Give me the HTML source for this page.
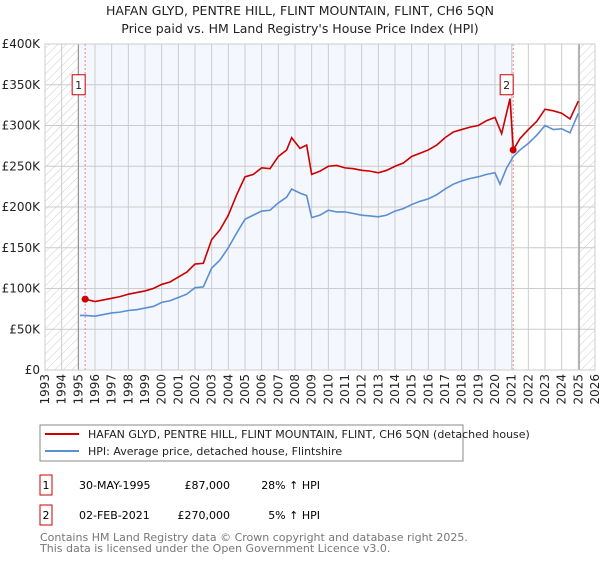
<!DOCTYPE html>
<html><head><meta charset="utf-8"><style>
body{margin:0;width:600px;height:560px;background:#fff;font-family:"Liberation Sans","DejaVu Sans",sans-serif;overflow:hidden}
svg text{font-family:"DejaVu Sans","Liberation Sans",sans-serif}
</style></head><body>
<svg id="c" width="600" height="560">
<defs><pattern id="hatch" width="6" height="6" patternUnits="userSpaceOnUse" patternTransform="rotate(45)"><line x1="0" y1="0" x2="0" y2="6" stroke="#ccc" stroke-width="1"/></pattern></defs>
<text x="300" y="15" text-anchor="middle" font-size="12.5" fill="#222">HAFAN GLYD, PENTRE HILL, FLINT MOUNTAIN, FLINT, CH6 5QN</text>
<text x="300" y="33" text-anchor="middle" font-size="12.5" fill="#222">Price paid vs. HM Land Registry's House Price Index (HPI)</text>
<g id="plot"></g>
<rect x="40" y="425" width="423" height="36" fill="#fff" stroke="#888"/>
<line x1="45" y1="434" x2="79" y2="434" stroke="#cc0000" stroke-width="2"/>
<text x="88" y="438" font-size="11" fill="#222">HAFAN GLYD, PENTRE HILL, FLINT MOUNTAIN, FLINT, CH6 5QN (detached house)</text>
<line x1="45" y1="451" x2="79" y2="451" stroke="#5b8fd4" stroke-width="2"/>
<text x="88" y="455" font-size="11" fill="#222">HPI: Average price, detached house, Flintshire</text>
<g>
<rect x="40" y="475" width="12" height="20" fill="#fff" stroke="#cc0000"/><text x="46" y="489" font-size="11" text-anchor="middle">1</text>
<text x="79" y="489" font-size="11">30-MAY-1995</text><text x="230" y="489" font-size="11" text-anchor="end">£87,000</text><text x="320" y="489" font-size="11" text-anchor="end">28% ↑ HPI</text></g>
<g>
<rect x="40" y="505" width="12" height="20" fill="#fff" stroke="#cc0000"/><text x="46" y="519" font-size="11" text-anchor="middle">2</text>
<text x="79" y="519" font-size="11">02-FEB-2021</text><text x="230" y="519" font-size="11" text-anchor="end">£270,000</text><text x="320" y="519" font-size="11" text-anchor="end">5% ↑ HPI</text></g>
<text x="40" y="541" font-size="11" fill="#777">Contains HM Land Registry data © Crown copyright and database right 2025.</text>
<text x="40" y="552" font-size="11" fill="#777">This data is licensed under the Open Government Licence v3.0.</text>
</svg>
<script>
const hpiYears=[1995.1,1995.4,1996,1996.5,1997,1997.5,1998,1998.5,1999,1999.5,2000,2000.5,2001,2001.5,2002,2002.5,2003,2003.5,2004,2004.5,2005,2005.5,2006,2006.5,2007,2007.5,2007.8,2008.3,2008.7,2009,2009.5,2010,2010.5,2011,2011.5,2012,2012.5,2013,2013.5,2014,2014.5,2015,2015.5,2016,2016.5,2017,2017.5,2018,2018.5,2019,2019.5,2020,2020.3,2020.7,2021.1,2021.5,2022,2022.5,2023,2023.5,2024,2024.5,2025];
const hpiValues=[67,67,66,68,70,71,73,74,76,78,83,85,89,93,101,102,125,135,150,168,185,190,195,196,205,212,222,217,214,187,190,196,194,194,192,190,189,188,190,195,198,203,207,210,215,222,228,232,235,237,240,242,228,248,262,270,278,288,300,295,296,291,315];
const saleYears=[1995.4,1996,1996.5,1997,1997.5,1998,1998.5,1999,1999.5,2000,2000.5,2001,2001.5,2002,2002.5,2003,2003.5,2004,2004.5,2005,2005.5,2006,2006.5,2007,2007.5,2007.8,2008.3,2008.7,2009,2009.5,2010,2010.5,2011,2011.5,2012,2012.5,2013,2013.5,2014,2014.5,2015,2015.5,2016,2016.5,2017,2017.5,2018,2018.5,2019,2019.5,2020,2020.4,2020.9,2021.1,2021.5,2022,2022.5,2023,2023.5,2024,2024.5,2025];
const saleValues=[87,84,86,88,90,93,95,97,100,105,108,114,120,130,131,160,172,190,215,237,240,248,247,262,270,285,272,276,240,244,250,251,248,247,245,244,242,245,250,254,262,266,270,276,285,292,295,298,300,306,310,290,333,270,284,295,305,320,318,315,308,330];
const yTicks=[0,50,100,150,200,250,300,350,400];
const yTickLabels=["£0","£50K","£100K","£150K","£200K","£250K","£300K","£350K","£400K"];
const xTicks=[];for(let y=1993;y<=2026;y++)xTicks.push(y);
const sales=[{n:"1",year:1995.41,value:87},{n:"2",year:2021.09,value:270}];
const X=y=>45+(y-1993)*(550/33), Y=v=>370-v*326/400;
const NS="http://www.w3.org/2000/svg",g=document.getElementById('plot');
function mk(t,a,p){const e=document.createElementNS(NS,t);for(const k in a)e.setAttribute(k,a[k]);(p||g).appendChild(e);return e;}
let e;
e=mk('rect',{x:X(1995),y:Y(400),width:X(2021.09)-X(1995),height:Y(0)-Y(400),fill:'#f4f7fe'});


e=mk('rect',{x:X(1993),y:Y(400),width:X(1995)-X(1993),height:Y(0)-Y(400),fill:'url(#hatch)'});


e=mk('rect',{x:X(2025.05),y:Y(400),width:X(2026)-X(2025.05),height:Y(0)-Y(400),fill:'url(#hatch)'});


yTicks.forEach((v,i)=>{
 e=mk('line',{x1:X(1993),x2:X(2026),y1:Y(v),y2:Y(v),stroke:'#ccc'});
 
 
 e=mk('text',{x:40,y:Y(v)+4,'text-anchor':'end','font-size':12,fill:'#222'});e.textContent=yTickLabels[i];
 
 
});
xTicks.forEach(y=>{
 e=mk('line',{x1:X(y),x2:X(y),y1:Y(400),y2:Y(0),stroke:'#ccc'});
 
 
 e=mk('text',{x:0,y:0,'text-anchor':'end','font-size':12,fill:'#222',transform:`translate(${X(y)+4},374) rotate(-90)`});e.textContent=y;
 
 
});
e=mk('line',{x1:X(1995),x2:X(1995),y1:Y(400),y2:Y(0),stroke:'#888'});


e=mk('line',{x1:X(2025.05),x2:X(2025.05),y1:Y(400),y2:Y(0),stroke:'#888'});


sales.forEach(s=>{
 e=mk('line',{x1:X(s.year),x2:X(s.year),y1:Y(400),y2:Y(0),stroke:'#f08080','stroke-dasharray':'2,2'});
 
 
});
e=mk('polyline',{points:hpiYears.map((y,i)=>X(y)+','+Y(hpiValues[i])).join(' '),fill:'none',stroke:'#5b8fd4','stroke-width':1.6});


e=mk('polyline',{points:saleYears.map((y,i)=>X(y)+','+Y(saleValues[i])).join(' '),fill:'none',stroke:'#cc0000','stroke-width':1.6});


sales.forEach(s=>{
 e=mk('circle',{cx:X(s.year),cy:Y(s.value),r:3.5,fill:'#cc0000'});
 
 
 e=mk('rect',{x:X(s.year)-13,y:Y(350)-10,width:13,height:20,fill:'#fff',stroke:'#cc0000'});
 
 
 e=mk('text',{x:X(s.year)-6.5,y:Y(350)+4,'text-anchor':'middle','font-size':11,fill:'#222'});e.textContent=s.n;
 
 
});
e=mk('rect',{x:X(1993),y:Y(400),width:X(2026)-X(1993),height:Y(0)-Y(400),fill:'none',stroke:'#ccc'});


</script>
</body></html>
